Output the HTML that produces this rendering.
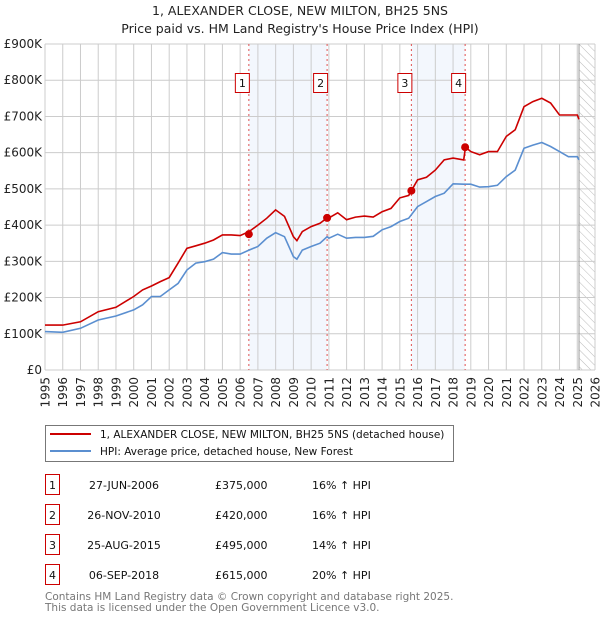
<!DOCTYPE html>
<html><head><meta charset="utf-8">
<style>
body{margin:0;background:#fff;font-family:"DejaVu Sans","Liberation Sans",sans-serif;}
svg text{font-family:"DejaVu Sans","Liberation Sans",sans-serif;}
</style></head>
<body>
<svg width="600" height="620" viewBox="0 0 600 620">
<defs>
<pattern id="hatch" width="6" height="6" patternUnits="userSpaceOnUse" patternTransform="rotate(-45)">
<line x1="0" y1="0" x2="0" y2="6" stroke="#bbb" stroke-width="1"/>
</pattern>
</defs>
<text x="300" y="15" text-anchor="middle" font-size="12.5" fill="#222">1, ALEXANDER CLOSE, NEW MILTON, BH25 5NS</text>
<text x="300" y="33" text-anchor="middle" font-size="12.5" fill="#222">Price paid vs. HM Land Registry's House Price Index (HPI)</text>
<g id="bands"></g>
<g id="grid"></g>
<g id="series"></g>
<g id="markers"></g>
<g>
<rect x="45.5" y="425.5" width="408" height="36" fill="#fff" stroke="#777"/>
<line x1="50" y1="434" x2="91" y2="434" stroke="#cc0000" stroke-width="2"/>
<text x="100" y="438" font-size="10.5" fill="#111">1, ALEXANDER CLOSE, NEW MILTON, BH25 5NS (detached house)</text>
<line x1="50" y1="451" x2="91" y2="451" stroke="#5b8fd0" stroke-width="2"/>
<text x="100" y="455" font-size="10.5" fill="#111">HPI: Average price, detached house, New Forest</text>
</g>
<g id="table"></g>
<text x="45" y="600" font-size="10.5" fill="#777">Contains HM Land Registry data © Crown copyright and database right 2025.</text>
<text x="45" y="611" font-size="10.5" fill="#777">This data is licensed under the Open Government Licence v3.0.</text>
</svg>
<script>
const yTicks=[0,100,200,300,400,500,600,700,800,900];
const yTickLabels=["£0","£100K","£200K","£300K","£400K","£500K","£600K","£700K","£800K","£900K"];
const years=[1995,1996,1997,1998,1999,2000,2001,2002,2003,2004,2005,2006,2007,2008,2009,2010,2011,2012,2013,2014,2015,2016,2017,2018,2019,2020,2021,2022,2023,2024,2025,2026];
const dates=[1995,1996,1997,1998,1999,2000,2000.5,2001,2001.5,2002,2002.5,2003,2003.5,2004,2004.5,2005,2005.5,2006,2006.5,2007,2007.5,2008,2008.5,2009,2009.2,2009.5,2010,2010.5,2010.9,2011,2011.5,2012,2012.5,2013,2013.5,2014,2014.5,2015,2015.5,2016,2016.5,2017,2017.5,2018,2018.6,2018.7,2019,2019.5,2020,2020.5,2021,2021.5,2022,2022.5,2023,2023.5,2024,2024.5,2025,2025.1];
const propertyValues=[124,124,133,161,173,203,221,232,244,255,295,336,343,350,359,373,373,371,382,400,419,442,424,368,357,382,396,405,420,420,434,415,422,425,422,437,446,475,482,525,532,552,580,585,580,615,603,594,603,603,645,663,727,741,750,737,704,704,704,692];
const hpiValues=[106,104,115,138,149,166,180,203,203,221,239,276,295,299,306,324,320,320,331,341,364,379,368,313,306,331,341,350,368,364,375,364,366,366,369,387,396,410,419,451,465,479,488,514,513,513,513,505,506,510,534,552,612,621,628,617,603,589,589,580];
const saleLabels=["1","2","3","4"];
const saleDates=[2006.49,2010.9,2015.65,2018.68];
const salePrices=[375,420,495,615];
const saleDateText=["27-JUN-2006","26-NOV-2010","25-AUG-2015","06-SEP-2018"];
const salePriceText=["£375,000","£420,000","£495,000","£615,000"];
const saleHpiText=["16% ↑ HPI","16% ↑ HPI","14% ↑ HPI","20% ↑ HPI"];

const NS="http://www.w3.org/2000/svg";
const X0=45,X1=595,Y0=370,Y1=44;
const xs=t=>X0+(t-1995)/(2026-1995)*(X1-X0);
const ys=v=>Y0-v/900*(Y0-Y1);
function mk(tag,attrs,parent){const e=document.createElementNS(NS,tag);for(const k in attrs)e.setAttribute(k,attrs[k]);parent.appendChild(e);return e;}
const bands=document.getElementById('bands'),grid=document.getElementById('grid'),series=document.getElementById('series'),markers=document.getElementById('markers'),table=document.getElementById('table');
for(let i=0;i<4;i+=2){
 const r=mk('rect',{x:xs(saleDates[i]),y:Y1,width:xs(saleDates[i+1])-xs(saleDates[i]),height:Y0-Y1,fill:'#eef3fc',opacity:0.7},bands);
 
 
}
const h=mk('rect',{x:xs(2025.1),y:Y1,width:X1-xs(2025.1),height:Y0-Y1,fill:'url(#hatch)'},bands);


yTicks.forEach((v,i)=>{
 mk('line',{x1:X0,x2:X1,y1:ys(v),y2:ys(v),stroke:'#ccc','stroke-width':1},grid);
 const t=mk('text',{x:X0-3,y:ys(v)+4,'text-anchor':'end','font-size':12,fill:'#222'},grid);
 t.textContent=yTickLabels[i];
 
 
});
years.forEach(y=>{
 mk('line',{x1:xs(y),x2:xs(y),y1:Y1,y2:Y0,stroke:'#ccc','stroke-width':1},grid);
 const tx=xs(y)+4.5, ty=377;
 const t=mk('text',{x:tx,y:ty,'text-anchor':'end','font-size':12,fill:'#222',transform:'rotate(-90 '+tx+' '+ty+')'},grid);
 t.textContent=y;
 
 
});
mk('line',{x1:xs(2025.1),x2:xs(2025.1),y1:Y1,y2:Y0,stroke:'#999','stroke-width':1},grid);
saleDates.forEach((d,i)=>{
 const l=mk('line',{x1:xs(d),x2:xs(d),y1:Y1,y2:Y0,stroke:'#e05050','stroke-width':1,'stroke-dasharray':'2,3'},grid);
 
 
});
function path(vals){return vals.map((v,i)=>(i?'L':'M')+xs(dates[i]).toFixed(1)+','+ys(v).toFixed(1)).join('');}
const hp=mk('path',{d:path(hpiValues),fill:'none',stroke:'#5b8fd0','stroke-width':1.6},series);


const pp=mk('path',{d:path(propertyValues),fill:'none',stroke:'#cc0000','stroke-width':1.6},series);


saleDates.forEach((d,i)=>{
 const c=mk('circle',{cx:xs(d),cy:ys(salePrices[i]),r:4,fill:'#cc0000'},markers);
 
 
 const g=mk('g',{},markers);
 
 
 mk('rect',{x:xs(d)-13.5,y:73.5,width:14,height:19,fill:'#fff',stroke:'#cc0000'},g);
 const t=mk('text',{x:xs(d)-6.5,y:87,'text-anchor':'middle','font-size':11,fill:'#111'},g);
 t.textContent=saleLabels[i];
});
const rowY=[485,515,545,575];
saleLabels.forEach((s,i)=>{
 const y=rowY[i];
 const g=mk('g',{},table);
 
 
 mk('rect',{x:45.5,y:y-10.5,width:14,height:20,fill:'#fff',stroke:'#cc0000'},g);
 const a=mk('text',{x:52.5,y:y+4,'text-anchor':'middle','font-size':11,fill:'#111'},g);a.textContent=s;
 const b=mk('text',{x:124,y:y+4,'text-anchor':'middle','font-size':11,fill:'#111'},g);b.textContent=saleDateText[i];
 const c=mk('text',{x:215,y:y+4,'font-size':11,fill:'#111'},g);c.textContent=salePriceText[i];
 const e=mk('text',{x:312,y:y+4,'font-size':11,fill:'#111'},g);e.textContent=saleHpiText[i];
});
</script>
</body></html>
